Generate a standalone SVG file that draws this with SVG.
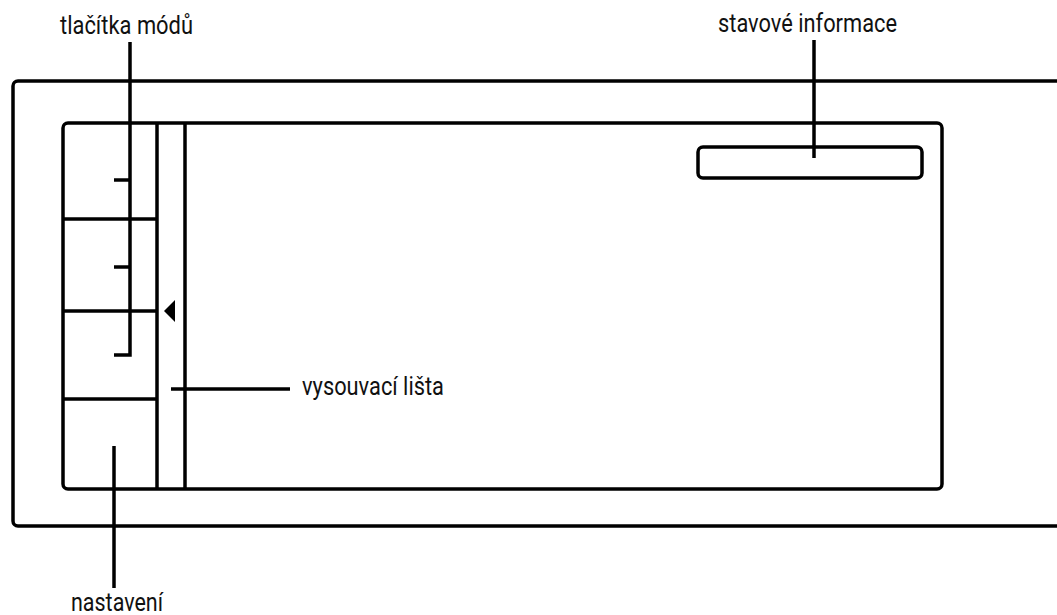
<svg xmlns="http://www.w3.org/2000/svg" width="1057" height="615" viewBox="0 0 1057 615">
<style>
.s{fill:none;stroke:#000;stroke-width:3.5}
.t{font-family:Roboto,"Liberation Sans",sans-serif;font-size:25px;font-weight:400;fill:#111}
</style>
<rect width="1057" height="615" fill="#fff"/>
<g id="device">
<rect class="s" x="13" y="81" width="1100" height="445" rx="5"/>
</g>
<g id="screen">
<rect class="s" x="63" y="123" width="879" height="366" rx="5"/>
<line class="s" x1="157" y1="123" x2="157" y2="489"/>
<line class="s" x1="185" y1="123" x2="185" y2="489"/>
</g>
<g id="mode-buttons">
<line class="s" x1="63" y1="219" x2="157" y2="219"/>
<line class="s" x1="63" y1="311" x2="157" y2="311"/>
<line class="s" x1="63" y1="399" x2="157" y2="399"/>
</g>
<g id="toggle">
<polygon points="164,311 175,300 175,322" fill="#000"/>
</g>
<g id="status-info">
<rect class="s" x="698" y="147" width="224" height="31" rx="5"/>
</g>
<g id="connectors">
<polyline class="s" points="130,42 130,355 114,355"/>
<line class="s" x1="114" y1="180" x2="130" y2="180"/>
<line class="s" x1="114" y1="267" x2="130" y2="267"/>
<line class="s" x1="814" y1="40" x2="814" y2="158"/>
<line class="s" x1="171" y1="389" x2="290" y2="389"/>
<line class="s" x1="114" y1="446" x2="114" y2="588"/>
</g>
<g id="labels">
<text class="t" x="60" y="34" textLength="133" lengthAdjust="spacingAndGlyphs">tlačítka módů</text>
<text class="t" x="718" y="32" textLength="179" lengthAdjust="spacingAndGlyphs">stavové informace</text>
<text class="t" x="302" y="395" textLength="142" lengthAdjust="spacingAndGlyphs">vysouvací lišta</text>
<text class="t" x="71" y="611" textLength="92" lengthAdjust="spacingAndGlyphs">nastavení</text>
</g>
</svg>
